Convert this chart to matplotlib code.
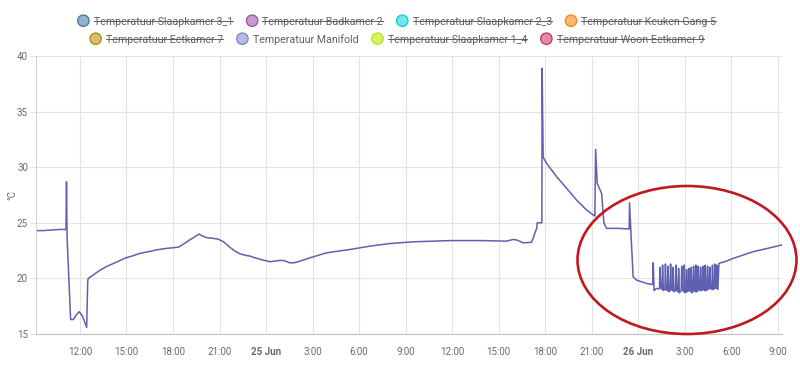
import matplotlib
matplotlib.use("Agg")
import matplotlib.pyplot as plt
from matplotlib.patches import Ellipse
from matplotlib.lines import Line2D
import pandas as pd

plt.rcParams['font.family'] = ['Roboto', 'DejaVu Sans']

# Temperatuur Manifold, 24 - 26 juni
day24_times = ["09:10", "09:40", "10:10", "10:40", "11:06", "11:08", "11:10", "11:24", "11:34",
               "11:45", "11:57", "12:10", "12:26", "12:30", "12:32", "12:51", "13:15", "13:43",
               "14:20", "14:54", "15:20", "15:52", "16:25", "16:57", "17:35", "18:14", "18:21",
               "18:45", "19:05", "19:25", "19:40", "19:55", "20:10", "20:35", "20:55", "21:15",
               "21:40", "22:00", "22:19", "22:45", "23:00", "23:10", "23:40"]
day24_temps = [24.3, 24.3, 24.35, 24.4, 24.4, 28.7, 23.8, 16.3, 16.3,
               16.7, 17.0, 16.6, 15.6, 19.7, 20.0, 20.3, 20.7, 21.07,
               21.45, 21.82, 22.0, 22.25, 22.4, 22.57, 22.7, 22.8, 22.81,
               23.15, 23.47, 23.75, 23.98, 23.8, 23.67, 23.6, 23.53, 23.3,
               22.8, 22.45, 22.21, 22.05, 22.0, 21.9, 21.7]

day25_times = ["00:15", "00:54", "01:10", "01:32", "01:52", "02:04", "02:50", "03:54", "05:24",
               "06:42", "08:00", "09:30", "11:51", "14:00", "15:30", "15:56", "16:10", "16:35",
               "17:07", "17:15", "17:20", "17:27", "17:29", "17:47", "17:48", "17:52", "18:05",
               "18:44", "19:23", "20:01", "20:40", "21:12", "21:15", "21:21", "21:38", "21:47",
               "21:57", "22:40", "23:25", "23:26", "23:40", "23:53"]
day25_temps = [21.5, 21.62, 21.6, 21.4, 21.42, 21.5, 21.85, 22.3, 22.6,
               22.9, 23.14, 23.29, 23.4, 23.4, 23.35, 23.5, 23.45, 23.2,
               23.25, 23.7, 24.1, 24.5, 25.0, 25.0, 38.9, 30.9, 30.35,
               29.15, 28.1, 27.05, 26.15, 25.6, 31.6, 28.55, 27.65, 25.0,
               24.5, 24.5, 24.45, 26.8, 20.15, 19.85]

day26_times = ["00:32", "00:54", "00:56", "00:58", "01:01", "01:10", "01:22", "01:24", "01:27",
               "01:32", "01:34", "01:37", "01:43", "01:45", "01:48", "01:53", "01:55", "01:58",
               "02:03", "02:05", "02:08", "02:13", "02:15", "02:18", "02:24", "02:26", "02:29",
               "02:34", "02:36", "02:39", "02:46", "02:48", "02:51", "02:56", "02:58", "03:01",
               "03:05", "03:07", "03:10", "03:14", "03:16", "03:19", "03:23", "03:25", "03:28",
               "03:32", "03:34", "03:37", "03:41", "03:43", "03:46", "03:50", "03:52", "03:55",
               "03:59", "04:01", "04:04", "04:08", "04:10", "04:13", "04:17", "04:19", "04:22",
               "04:26", "04:28", "04:31", "04:35", "04:37", "04:40", "04:45", "04:47", "04:50",
               "04:54", "04:56", "04:59", "05:02", "05:04", "05:08", "05:12", "05:40", "06:07",
               "06:45", "07:24", "08:20", "09:14"]
day26_temps = [19.55, 19.45, 19.45, 21.4, 18.9, 19.1, 19.05, 21.0, 19.2,
               19.0, 21.2, 18.9, 19.0, 21.3, 19.0, 18.9, 21.1, 18.8,
               18.9, 21.3, 19.0, 18.9, 21.0, 18.8, 18.9, 21.2, 18.9,
               18.8, 20.9, 18.7, 18.9, 21.1, 19.0, 18.8, 21.2, 18.7,
               18.8, 20.8, 18.8, 18.9, 20.9, 18.9, 18.8, 21.0, 18.7,
               18.9, 21.1, 18.9, 18.8, 21.2, 18.8, 18.9, 21.1, 19.0,
               18.9, 21.0, 18.9, 19.0, 21.1, 19.0, 18.9, 21.2, 18.9,
               19.0, 21.1, 19.0, 19.1, 21.0, 19.1, 19.0, 21.2, 19.0,
               19.1, 21.3, 19.1, 19.1, 21.2, 19.0, 21.35, 21.55, 21.8,
               22.1, 22.4, 22.7, 23.0]

legend_names = ["Temperatuur Slaapkamer 3_1", "Temperatuur Badkamer 2", "Temperatuur Slaapkamer 2_3",
                "Temperatuur Keuken Gang 5", "Temperatuur Eetkamer 7", "Temperatuur Manifold",
                "Temperatuur Slaapkamer 1_4", "Temperatuur Woon Eetkamer 9"]
legend_colors = ["#44739e", "#984ea3", "#00d2d5", "#ff7f00", "#af8d00", "#7f80cd", "#b3e900", "#c42e60"]
legend_hidden = [True, True, True, True, True, False, True, True]

times = pd.to_datetime(["2023-06-24 " + t for t in day24_times]
                       + ["2023-06-25 " + t for t in day25_times]
                       + ["2023-06-26 " + t for t in day26_times])
temps = day24_temps + day25_temps + day26_temps

W, H = 800, 381
fx = lambda x: x / W
fy = lambda y: 1 - y / H

fig = plt.figure(figsize=(8, 3.81), dpi=100)
ax = fig.add_axes([fx(36), fy(334), (782 - 36) / W, (334 - 56) / H])
ax.plot(times, temps, color="#5f60b0", lw=1.1)

ax.set_ylim(15, 40)
ax.set_xlim(pd.Timestamp("2023-06-24 09:10"), pd.Timestamp("2023-06-26 09:16"))
ax.set_yticks(range(15, 41, 5))
ticks = pd.date_range("2023-06-24 12:00", "2023-06-26 09:00", freq="3h")
ax.set_xticks(ticks)
ax.set_xticklabels([f"{t.day} {t.strftime('%b')}" if t.hour == 0 else f"{t.hour}:00" for t in ticks])
for lab, t in zip(ax.get_xticklabels(), ticks):
    if t.hour == 0:
        lab.set_fontweight("bold")
        lab.set_color("#444444")

ax.grid(color="#e3e3e3", lw=0.8)
ax.set_axisbelow(True)
ax.tick_params(axis="x", length=0, pad=9.5, labelsize=7, labelcolor="#6a6a6a")
ax.tick_params(axis="y", length=4.3, width=0.8, color="#e3e3e3", labelsize=7, labelcolor="#6a6a6a", pad=1.5)
for s in ["top", "right"]:
    ax.spines[s].set_visible(False)
ax.spines["left"].set_color("#d4d4d4")
ax.spines["bottom"].set_color("#c4c4c4")
ax.spines["left"].set_linewidth(0.8)
ax.spines["bottom"].set_linewidth(0.8)

fig.text(fx(12), fy(195), "°C", rotation=90, ha="center", va="center", fontsize=7, color="#6a6a6a")

# legend, drawn by hand (strikethrough for hidden series)
fig.canvas.draw()
renderer = fig.canvas.get_renderer()
fs = 7.7
r = 5.7
rows = [(range(0, 4), 20.7, 397), (range(4, 8), 38.7, 397)]
for idx, row_y, cx in rows:
    widths = []
    texts = []
    for i in idx:
        t = fig.text(0, 0, legend_names[i], fontsize=fs, color="#606060", va="baseline")
        widths.append(t.get_window_extent(renderer).width)
        texts.append(t)
    total = sum(2 * r + 4.6 + w for w in widths) + 13.5 * (len(widths) - 1)
    x = cx - total / 2
    for i, t, w in zip(idx, texts, widths):
        fig.add_artist(Ellipse((fx(x + r), fy(row_y)), 2 * r / W, 2 * r / H, transform=fig.transFigure,
                               facecolor=legend_colors[i], alpha=0.55, edgecolor="none"))
        fig.add_artist(Ellipse((fx(x + r), fy(row_y)), 2 * r / W, 2 * r / H, transform=fig.transFigure,
                               facecolor="none", edgecolor=legend_colors[i], lw=0.9))
        tx = x + 2 * r + 4.6
        t.set_position((fx(tx), fy(row_y + 0.36 * fs * 100 / 72)))
        if legend_hidden[i]:
            fig.add_artist(Line2D([fx(tx), fx(tx + w)], [fy(row_y + 0.6)] * 2, transform=fig.transFigure,
                                  color="#606060", lw=0.7))
        x = tx + w + 13.5

# red ellipse annotation
fig.add_artist(Ellipse((fx(687), fy(260)), 219 / W, 148 / H, transform=fig.transFigure,
                       fill=False, edgecolor="#c0191f", lw=1.9))

fig.savefig("out.png", dpi=100)
